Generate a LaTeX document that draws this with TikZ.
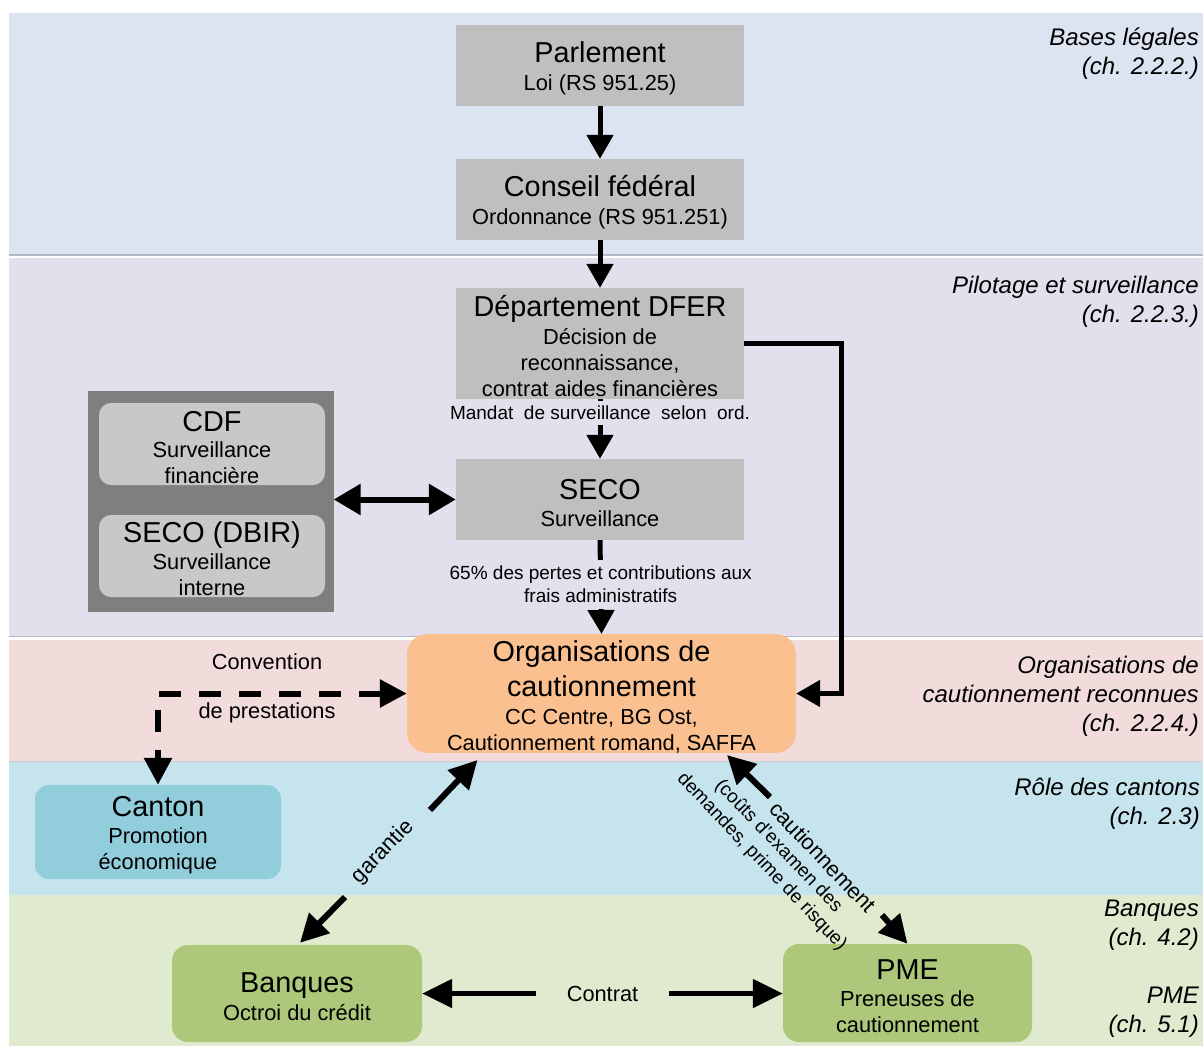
\documentclass[tikz,border=0pt]{standalone}
\usepackage{fontspec}
\setmainfont{Liberation Sans}
\usetikzlibrary{arrows.meta,calc}
\definecolor{bandA}{HTML}{DBE4F0}
\definecolor{bandB}{HTML}{E4DFEC}
\definecolor{bandC}{HTML}{F2DCDB}
\definecolor{bandD}{HTML}{C6E4ED}
\definecolor{bandE}{HTML}{E0EACF}
\definecolor{sepgray}{HTML}{B4B8C0}
\definecolor{boxgray}{HTML}{BFBFBF}
\definecolor{darkgray}{HTML}{7F7F7F}
\definecolor{innergray}{HTML}{C8C8C8}
\definecolor{orgorange}{HTML}{FAC090}
\definecolor{cantonblue}{HTML}{92CDDC}
\definecolor{bankgreen}{HTML}{ADC87A}
\newcommand\titl{\fontsize{28.8}{32}\selectfont}
\newcommand\hd[1]{{\titl\rule{0pt}{27pt}#1}}
\newcommand\subt{\fontsize{21.8}{26}\selectfont}
\newcommand\smallt{\fontsize{19}{23}\selectfont}
\newcommand\sidet{\fontsize{24}{29}\selectfont\itshape}
\begin{document}
\begin{tikzpicture}[x=1pt,y=-1pt,
  box/.style={inner sep=0pt, align=center, font=\subt, text=black},
  gbox/.style={box, fill=boxgray, minimum width=288pt},
  rbox/.style={box, rounded corners=#1},
  arr/.style={line width=5pt, -{Triangle[width=26pt,length=24pt]}},
  lbl/.style={font=\subt, inner sep=0pt},
  side/.style={anchor=east, align=right, font=\sidet, inner sep=0pt},
]
% background and bands
\fill[white] (0,0) rectangle (1203,1046);
\useasboundingbox (0,0) rectangle (1203,1046);
\fill[bandA] (9,13) rectangle (1203,254.5);
\draw[sepgray, line width=1.5pt] (9,255.2) -- (1203,255.2);
\fill[bandB] (9,258) rectangle (1203,635.5);
\draw[sepgray, line width=1.2pt] (9,636.2) -- (1203,636.2);
\fill[bandC] (9,639.5) rectangle (1203,761);
\draw[sepgray!70, line width=1pt] (9,761.5) -- (1203,761.5);
\fill[bandD] (9,762) rectangle (1203,895);
\fill[bandE] (9,895) rectangle (1203,1046);

% boxes
\node[gbox, minimum height=81pt] (parl) at (600,65.5) {\hd{Parlement}\\[2pt] Loi (RS 951.25)};
\node[gbox, minimum height=81pt] (conseil) at (600,199.5) {\hd{Conseil fédéral}\\[2pt] Ordonnance (RS 951.251)};
\node[gbox, minimum height=111pt] (dfer) at (600,343.5) {\hd{Département DFER}\\[2pt] Décision de\\ reconnaissance,\\ contrat aides financières};
\node[gbox, minimum height=81pt] (seco) at (600,499.5) {\hd{SECO}\\[1pt] Surveillance};

\node[fill=darkgray, minimum width=246pt, minimum height=221pt, inner sep=0pt] (ctrl) at (210.5,501.5) {};
\node[rbox=12pt, fill=innergray, minimum width=226pt, minimum height=82pt] (cdf) at (212,444) {\hd{CDF}\\ Surveillance\\ financière};
\node[rbox=12pt, fill=innergray, minimum width=226pt, minimum height=82pt] (dbir) at (212,556) {\hd{SECO (DBIR)}\\[1pt] Surveillance\\ interne};

\node[rbox=20pt, fill=orgorange, minimum width=389pt, minimum height=115pt] (org) at (601.5,693.5) {\hd{Organisations de}\\[7pt] {\titl cautionnement}\\[2pt] CC Centre, BG Ost,\\ Cautionnement romand, SAFFA};

\node[rbox=14pt, fill=cantonblue, minimum width=246pt, minimum height=94pt] (canton) at (158,832) {\hd{Canton}\\[1pt] Promotion\\ économique};

\node[rbox=16pt, fill=bankgreen, minimum width=250pt, minimum height=97pt] (banques) at (297,993.5) {\hd{Banques}\\[2pt] Octroi du crédit};
\node[rbox=16pt, fill=bankgreen, minimum width=249pt, minimum height=98pt] (pme) at (907.5,993) {\hd{PME}\\[1pt] Preneuses de\\ cautionnement};

% connectors
\draw[arr] (parl.south) -- (conseil.north);
\draw[arr] (conseil.south) -- (dfer.north);
\draw[arr] (dfer.south) -- node[pos=0.233, fill=bandB, font=\smallt, inner xsep=2pt, inner ysep=5pt] (mandat) {Mandat\ \ de surveillance\ \ selon\ \ ord.} (seco.north);
\draw[arr] (seco.south) -- node[pos=0.469, fill=bandB, font=\smallt, align=center, inner xsep=2pt, inner ysep=6pt] (pertes) {65\% des pertes et contributions aux\\ frais administratifs} (org.north);
\draw[arr] (dfer.east) -- ++(97,0) |- (org.east);
\draw[line width=6pt, {Triangle[width=30pt,length=27pt]}-{Triangle[width=30pt,length=27pt]}] (ctrl.east |- seco.west) -- (seco.west);

% convention
\draw[line width=6pt, dash pattern=on 22pt off 18pt, {Triangle[width=27pt,length=27pt]}-{Triangle[width=27pt,length=27pt]}] (org.west) -| (canton.north);
\node[lbl] (conv1) at (267,662) {Convention};
\node[lbl] (conv2) at (267,713) {de prestations};

% garantie
\coordinate (g1) at (430,810);
\coordinate (g2) at (345,897);
\draw[line width=6pt, -{Triangle[width=28pt,length=28pt]}] (g1) -- ($(org.south)+(-124,7)$);
\draw[line width=6pt, -{Triangle[width=28pt,length=28pt]}] (g2) -- ($(banques.north)+(3,-2)$);
\node[lbl, rotate=45.8] (garantie) at (383,852) {garantie};

% cautionnement
\coordinate (c1) at (770,797);
\coordinate (c2) at (882,915);
\draw[line width=6pt, -{Triangle[width=28pt,length=28pt]}] (c1) -- ($(org.south)+(125.5,2)$);
\draw[line width=6pt, -{Triangle[width=28pt,length=28pt]}] (c2) -- (pme.north);
\node[lbl, rotate=-46.4] (caut) at (823,857) {cautionnement};
\node[font=\fontsize{19}{23}\selectfont, align=center, rotate=-46.4, inner sep=0pt] (couts) at (770,854) {(coûts d'examen des\\ demandes, prime de risque)};

% contrat
\draw[line width=5pt, {Triangle[width=28pt,length=30pt]}-{Triangle[width=28pt,length=30pt]}] (banques.east) -- node[fill=bandE, font=\subt, inner xsep=31pt, inner ysep=2pt] (contrat) {Contrat} (banques.east -| pme.west);

% side labels
\node[side] (s1) at (1199,54) {Bases légales\\ (ch. 2.2.2.)};
\node[side] (s2) at (1199,301.5) {Pilotage et surveillance\\ (ch. 2.2.3.)};
\node[side] (s3) at (1199,696.5) {Organisations de\\ cautionnement reconnues\\ (ch. 2.2.4.)};
\node[side] (s4) at (1200,804) {Rôle des cantons\\ (ch. 2.3)};
\node[side] (s5) at (1199,925.5) {Banques\\ (ch. 4.2)};
\node[side] (s6) at (1199,1012) {PME\\ (ch. 5.1)};
\end{tikzpicture}
\end{document}
